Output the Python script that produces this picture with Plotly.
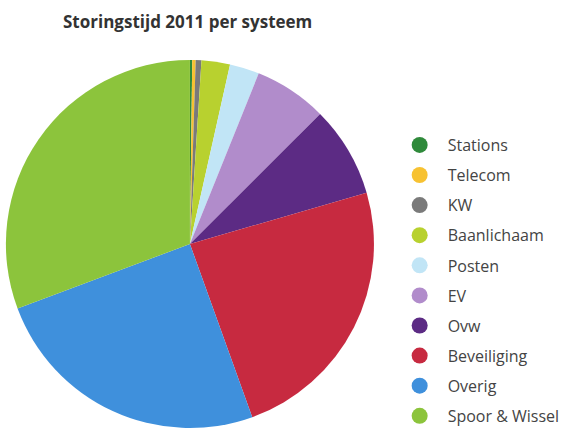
import plotly.graph_objects as go

labels = ["Stations", "Telecom", "KW", "Baanlichaam", "Posten", "EV", "Ovw",
          "Beveiliging", "Overig", "Spoor & Wissel"]
values = [0.2, 0.3, 0.5, 2.5, 2.6, 6.4, 8.0, 24.0, 24.8, 30.7]
colors = ["#2f8a3b", "#f7c232", "#7a7a7a", "#b8d12f", "#c1e5f6", "#b18ccb",
          "#5c2b84", "#c72a40", "#3f90dc", "#8cc43c"]

H = 433  # slightly taller than the window: the pie is cropped at the bottom as in the source

fig = go.Figure()
fig.add_trace(go.Pie(
    labels=labels, values=values, sort=False, direction="clockwise", rotation=0,
    marker=dict(colors=colors, line=dict(width=0)), textinfo="none",
    hoverinfo="label+percent", showlegend=False,
    domain=dict(x=[6/565, 380/565], y=[(H - 431)/H, 1 - 57/H]),
))
for lab, col in zip(labels, colors):
    fig.add_trace(go.Scatter(
        x=[None], y=[None], mode="markers", name=lab, legendgroup=lab,
        marker=dict(color=col, size=16, symbol="circle"),
    ))

fig.update_layout(
    width=565, height=H,
    margin=dict(l=0, r=0, t=0, b=0),
    paper_bgcolor="white", plot_bgcolor="white",
    xaxis=dict(visible=False), yaxis=dict(visible=False),
    title=dict(text="<b>Storingstijd 2011 per systeem</b>", x=63/565, xanchor="left",
               y=1 - 22/H, yanchor="middle",
               font=dict(family="Open Sans", size=17, color="#333333")),
    legend=dict(x=398/565, xanchor="left", y=0, yanchor="bottom",
                font=dict(family="Open Sans", size=16, color="#444444"),
                itemwidth=46, tracegroupgap=6.3, bgcolor="rgba(0,0,0,0)"),
    showlegend=True,
)
fig.write_html("out.html", config={"displayModeBar": False},
               post_script="document.body.style.margin='0';document.body.style.overflow='hidden';document.documentElement.style.overflow='hidden';")
